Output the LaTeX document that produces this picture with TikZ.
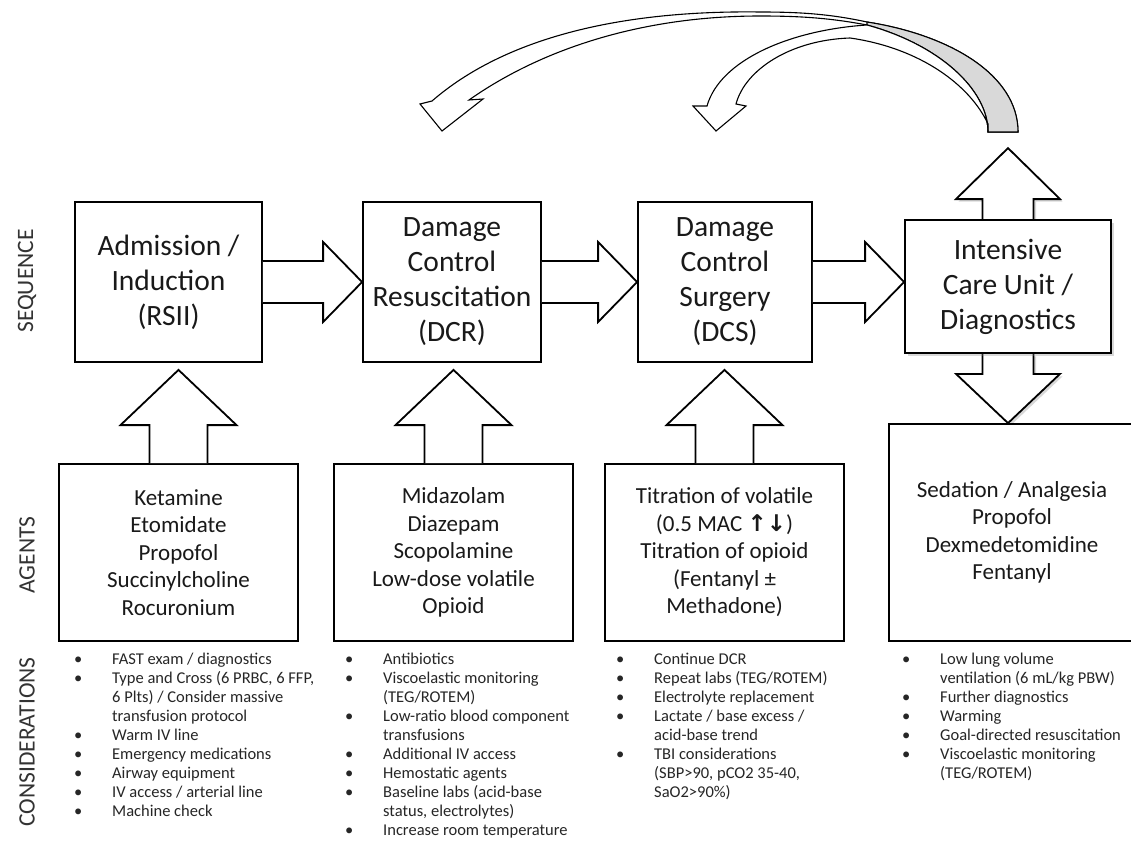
\documentclass[tikz,border=0pt]{standalone}
\usepackage{fontspec}
\setmainfont{Carlito}
\newfontfamily\arrowfont{DejaVu Sans}
\usetikzlibrary{calc,shadows}
\pgfdeclarelayer{bg}
\pgfsetlayers{bg,main}

\begin{document}
\begin{tikzpicture}[x=1pt, y=-1pt, line join=miter,
	seqbox/.style={draw, line width=1.8pt, fill=white, align=center, inner sep=0pt, text=black!90, font=\fontsize{29.5}{35}\selectfont},
	agentbox/.style={draw, line width=1.8pt, fill=white, align=center, inner sep=0pt, minimum width=239pt, minimum height=177pt, text=black!90, font=\fontsize{23}{27.5}\selectfont},
	blockarrow/.style={draw, line width=1.8pt, fill=white},
	softshadow/.style={drop shadow={shadow xshift=2.5pt, shadow yshift=-2.5pt, opacity=0.3}},
	ribbon/.style={draw, line width=1.1pt, fill=white},
	sidelabel/.style={rotate=90, font=\fontsize{23.5}{28}\selectfont, text=black!80},
	considlist/.style={anchor=base west, inner sep=0pt, font=\fontsize{16.5}{19.1}\selectfont, text=black!85}]
	\useasboundingbox (0,0) rectangle (1131,845);
	\begin{pgfonlayer}{bg}
		\fill[white] (0,0) rectangle (1131,845);
	\end{pgfonlayer}
	% sequence
	\node[seqbox, minimum width=187pt, minimum height=160pt] (seqA) at (168.5,282) {Admission /\\Induction\\(RSII)};
	\node[seqbox, minimum width=178pt, minimum height=160pt] (seqB) at (452,282) {Damage\\Control\\Resuscitation\\(DCR)};
	\node[seqbox, minimum width=174pt, minimum height=160pt] (seqC) at (725,282) {Damage\\Control\\Surgery\\(DCS)};
	\node[seqbox, softshadow, minimum width=206pt, minimum height=133pt] (seqD) at (1008,286.5) {Intensive\\Care Unit /\\Diagnostics};
	% agents
	\node[agentbox] (agA) at (178.5,552.5) {Ketamine\\Etomidate\\Propofol\\Succinylcholine\\Rocuronium};
	\node[agentbox] (agB) at (453.5,552.5) {Midazolam\\Diazepam\\Scopolamine\\Low-dose volatile\\Opioid};
	\node[agentbox] (agC) at (724.5,552.5) {Titration of volatile\\(0.5 MAC {\arrowfont\bfseries ↑↓})\\Titration of opioid\\(Fentanyl ±\\Methadone)};
	\node[agentbox, minimum width=246pt, minimum height=217pt] (agD) at (1012,532.5) {Sedation / Analgesia\\Propofol\\Dexmedetomidine\\Fentanyl};
	% row labels
	\node[sidelabel] (lblSeq) at (27,281) {SEQUENCE};
	\node[sidelabel] (lblAg) at (27,555) {AGENTS};
	\node[sidelabel] (lblCon) at (27,742) {CONSIDERATIONS};
	% arrows between the steps
	\foreach \s/\t in {seqA/seqB,seqB/seqC,seqC/seqD}{
		\draw[blockarrow] ($(\s.east)+(0,-21)$) -- ($(\t.west|-\s.east)+(-39,-21)$) -- ($(\t.west|-\s.east)+(-39,-40)$) -- (\t.west|-\s.east) -- ($(\t.west|-\s.east)+(-39,40)$) -- ($(\t.west|-\s.east)+(-39,21)$) -- ($(\s.east)+(0,21)$);
	}
	\foreach \a/\s in {agA/seqA,agB/seqB,agC/seqC}{
		\draw[blockarrow] ($(\a.north)+(-29,0)$) -- ++(0,-38) -- ++(-29,0) -- ($(\a.north|-\s.south)+(0,7)$) -- ($(\a.north)+(58,-38)$) -- ++(-29,0) -- ++(0,38);
	}
	\begin{pgfonlayer}{bg}
		\draw[blockarrow, softshadow] ($(seqD.north)+(-25.5,0)$) -- ++(0,-20) -- ++(-26.5,0) -- ($(seqD.north)+(0,-71)$) coordinate (icuTop) -- ($(seqD.north)+(52,-20)$) -- ++(-26.5,0) -- ++(0,20);
		\draw[blockarrow, softshadow] ($(seqD.south)+(-25.5,0)$) -- ++(0,20) -- ++(-26.5,0) -- (seqD.south|-agD.north) -- ($(seqD.south)+(52,20)$) -- ++(-26.5,0) -- ++(0,-20);
	\end{pgfonlayer}
	% curved arrows back from the ICU
	\filldraw[ribbon] (1018,132) .. controls (1018,75) and (950,35) .. (867,22) .. controls (830,14) and (800,12) .. (760,12) .. controls (610,10) and (500,42) .. (432,101) -- (420,104) -- (442,131) -- (483,99) -- (469,100) .. controls (540,50) and (640,16) .. (760,16) .. controls (800,16) and (830,18) .. (867,25) .. controls (940,45) and (988,90) .. (988,132) -- cycle;
	\filldraw[ribbon, fill=gray!30] (1018,132) .. controls (1018,75) and (950,35) .. (867,22) -- (867,25) .. controls (940,45) and (988,90) .. (988,132) -- cycle;
	\filldraw[ribbon] (988,132) .. controls (988,90) and (940,45) .. (867,25) .. controls (790,30) and (720,60) .. (707,106) -- (693,106) -- (716,131) -- (746,106) -- (736,104) .. controls (745,70) and (790,40) .. (850,38) .. controls (920,48) and (970,85) .. (988,124) -- cycle;
	% considerations
	\node[considlist] (conA) at (74,664) {\begin{tabular}[t]{@{}p{38pt}@{}l@{}}
		•&FAST exam / diagnostics\\
		•&Type and Cross (6 PRBC, 6 FFP,\\
		&6 Plts) / Consider massive\\
		&transfusion protocol\\
		•&Warm IV line\\
		•&Emergency medications\\
		•&Airway equipment\\
		•&IV access / arterial line\\
		•&Machine check
	\end{tabular}};
	\node[considlist] (conB) at (345,664) {\begin{tabular}[t]{@{}p{38pt}@{}l@{}}
		•&Antibiotics\\
		•&Viscoelastic monitoring\\
		&(TEG/ROTEM)\\
		•&Low-ratio blood component\\
		&transfusions\\
		•&Additional IV access\\
		•&Hemostatic agents\\
		•&Baseline labs (acid-base\\
		&status, electrolytes)\\
		•&Increase room temperature
	\end{tabular}};
	\node[considlist] (conC) at (616,664) {\begin{tabular}[t]{@{}p{38pt}@{}l@{}}
		•&Continue DCR\\
		•&Repeat labs (TEG/ROTEM)\\
		•&Electrolyte replacement\\
		•&Lactate / base excess /\\
		&acid-base trend\\
		•&TBI considerations\\
		&(SBP>90, pCO2 35-40,\\
		&SaO2>90\%)
	\end{tabular}};
	\node[considlist] (conD) at (902,664) {\begin{tabular}[t]{@{}p{38pt}@{}l@{}}
		•&Low lung volume\\
		&ventilation (6 mL/kg PBW)\\
		•&Further diagnostics\\
		•&Warming\\
		•&Goal-directed resuscitation\\
		•&Viscoelastic monitoring\\
		&(TEG/ROTEM)
	\end{tabular}};
\end{tikzpicture}
\end{document}
